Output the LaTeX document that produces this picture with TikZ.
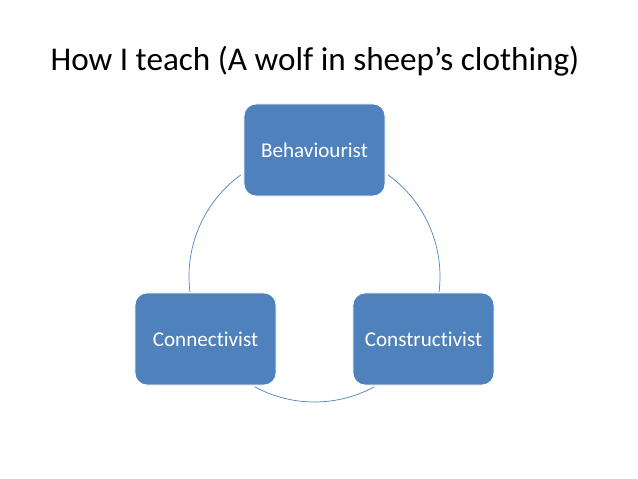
\documentclass[tikz,border=0pt]{standalone}
\usepackage{fontspec}
\setmainfont[Ligatures=NoCommon]{Carlito}
\usetikzlibrary{positioning}
\definecolor{officeblue}{RGB}{79,129,189}

\begin{document}
\begin{tikzpicture}[
    x=0.025cm, y=0.025cm,
    stage/.style={rectangle, rounded corners=0.3cm, fill=officeblue, draw=white, line width=0.6pt, minimum width=3.525cm, minimum height=2.3cm, align=center, text=white, font=\fontsize{15}{18}\selectfont},
    ring/.style={draw=officeblue, line width=0.5pt}
]
\useasboundingbox (0,0) rectangle (638,479);

% Title
\node[font=\fontsize{23.6}{28}\selectfont] (title) at (315,418) {How I teach (A wolf in sheep’s clothing)};

% Cycle centre
\coordinate (ctr) at (314.5,202.5);

% Arcs of the cycle
\draw[ring] ([shift={(126:125.5)}]ctr) arc[start angle=126, end angle=187, radius=125.5];
\draw[ring] ([shift={(-7:125.5)}]ctr) arc[start angle=-7, end angle=54, radius=125.5];
\draw[ring] ([shift={(241.5:125.5)}]ctr) arc[start angle=241.5, end angle=298.5, radius=125.5];

% Stages
\node[stage] (behav) at (314.5,329) {Behaviourist};
\node[stage] (connect) at (205.5,140) {Connectivist};
\node[stage] (construct) at (423.5,140) {Constructivist};

\end{tikzpicture}
\end{document}
